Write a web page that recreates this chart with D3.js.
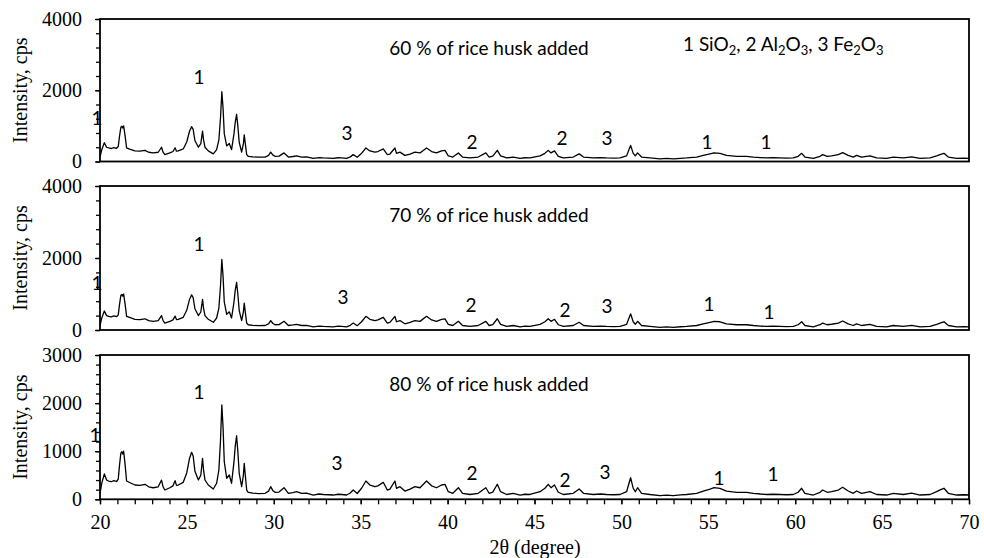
<!DOCTYPE html>
<html>
<head>
<meta charset="utf-8">
<script src="https://d3js.org/d3.v7.min.js"></script>
<style>
  body { margin: 0; background: #fff; }
</style>
</head>
<body>
<div id="xrd"></div>
<script>
// 2theta (degree) and intensity (cps), same pattern in all three panels
var theta = [20.00, 20.10, 20.25, 20.38, 20.50, 20.65, 20.80, 20.95, 21.05, 21.12, 21.20, 21.26, 21.31, 21.36, 21.45, 21.53,
    21.70, 22.01, 22.30, 22.59, 22.80, 23.06, 23.35, 23.54, 23.63, 23.73, 24.02, 24.20, 24.32, 24.40, 24.50, 24.79, 24.99,
    25.15, 25.27, 25.36, 25.46, 25.66, 25.80, 25.90, 25.96, 26.04, 26.23, 26.52, 26.71, 26.84, 26.93, 27.01, 27.08, 27.15,
    27.29, 27.44, 27.57, 27.71, 27.78, 27.86, 27.93, 28.01, 28.15, 28.25, 28.30, 28.36, 28.44, 28.53, 28.80, 29.10, 29.50,
    29.70, 29.82, 29.95, 30.07, 30.30, 30.59, 30.84, 31.10, 31.31, 31.60, 31.89, 32.27, 32.60, 32.85, 33.15, 33.42, 33.70,
    33.90, 34.19, 34.40, 34.57, 34.80, 35.05, 35.30, 35.53, 35.82, 35.99, 36.30, 36.53, 36.68, 36.97, 37.06, 37.26, 37.54,
    37.84, 38.12, 38.41, 38.79, 39.08, 39.36, 39.65, 39.85, 40.04, 40.30, 40.62, 40.86, 41.29, 41.76, 42.20, 42.39, 42.60,
    42.86, 43.05, 43.40, 43.78, 44.17, 44.45, 44.74, 45.32, 45.60, 45.79, 45.95, 46.15, 46.37, 46.66, 47.23, 47.57, 47.82,
    48.38, 48.80, 49.15, 49.55, 49.92, 50.30, 50.45, 50.53, 50.68, 50.80, 50.93, 51.16, 51.64, 52.22, 52.60, 52.99, 53.40,
    53.75, 54.33, 54.71, 55.10, 55.33, 55.67, 56.05, 56.63, 57.20, 57.59, 58.00, 58.36, 58.75, 59.12, 59.50, 59.89, 60.17,
    60.37, 60.56, 61.04, 61.43, 61.58, 61.84, 62.09, 62.48, 62.73, 63.05, 63.34, 63.53, 63.82, 64.30, 64.69, 65.26, 65.64,
    66.22, 66.70, 67.18, 67.76, 68.14, 68.37, 68.56, 68.81, 69.29, 69.70, 70.00];
var counts = [120, 330, 527, 400, 380, 365, 390, 370, 420, 700, 960, 990, 940, 1000, 700, 380,
    350, 297, 290, 312, 260, 240, 260, 400, 260, 193, 240, 280, 387, 290, 297, 353, 547,
    850, 977, 900, 590, 401, 500, 852, 600, 401, 297, 214, 333, 609, 1200, 1960, 1500, 782,
    437, 505, 333, 782, 1100, 1322, 1000, 540, 262, 500, 748, 500, 193, 146, 130, 120, 125,
    170, 262, 180, 146, 150, 241, 125, 140, 158, 125, 130, 89, 110, 100, 95, 89, 105,
    100, 89, 130, 193, 120, 229, 380, 297, 262, 280, 353, 193, 210, 380, 229, 262, 172,
    210, 262, 240, 380, 280, 240, 297, 310, 158, 125, 241, 125, 100, 125, 241, 125, 150,
    312, 158, 100, 125, 89, 105, 100, 158, 229, 312, 241, 297, 146, 100, 125, 214, 125,
    100, 110, 100, 95, 100, 158, 350, 450, 229, 158, 241, 125, 100, 75, 85, 75, 90,
    100, 125, 172, 214, 241, 229, 172, 146, 146, 125, 110, 100, 105, 100, 95, 100, 146,
    229, 125, 89, 146, 193, 146, 160, 193, 250, 172, 125, 172, 125, 158, 100, 89, 125,
    100, 130, 89, 100, 158, 200, 229, 125, 89, 95, 89];

var panelTitles = ["60 % of rice husk added", "70 % of rice husk added", "80 % of rice husk added"];
var yMax = [4000, 4000, 3000];
var yMajor = [[0, 2000, 4000], [0, 2000, 4000], [0, 1000, 2000, 3000]];
var yMinorStep = [400, 400, 200];
var xTicks = [20, 25, 30, 35, 40, 45, 50, 55, 60, 65, 70];

// peak markers: phase number, 2theta and height of the label
var peakPhase = ["1", "1", "3", "2", "2", "3", "1", "1"];
var peakTheta = [
    [19.83, 25.70, 34.21, 41.40, 46.58, 49.17, 54.93, 58.32],
    [19.83, 25.70, 33.98, 41.35, 46.75, 49.17, 55.04, 58.49],
    [19.71, 25.70, 33.64, 41.40, 46.75, 49.06, 55.62, 58.72]];
var peakLevel = [
    [1221, 2372, 800, 547, 660, 660, 547, 547],
    [1306, 2389, 917, 694, 556, 667, 722, 500],
    [1337, 2231, 755, 547, 401, 568, 443, 526]];

// legend pieces: text and whether it is a subscript
var legendText = ["1 SiO", "2", ", 2 Al", "2", "O", "3", ", 3 Fe", "2", "O", "3"];
var legendSub = [false, true, false, true, false, true, false, true, false, true];

var width = 984, height = 558;
var plotLeft = 100, plotRight = 969;
var panelTop = [19, 186, 355],
    panelBottom = [161.5, 330, 499.3];

var serif = "'Liberation Serif', 'Times New Roman', serif";
var sans = "Lato, 'Liberation Sans', sans-serif";

var svg = d3.select("#xrd")
    .append("svg")
    .attr("width", width)
    .attr("height", height)
    .style("background", "#fff");

var x = d3.scaleLinear()
    .domain([20, 70])
    .range([plotLeft, plotRight]);

var pts = theta.map(function(t, i) { return [t, counts[i]]; });

function drawPanel(p) {
    var y = d3.scaleLinear()
        .domain([0, yMax[p]])
        .range([panelBottom[p], panelTop[p]]);
    var g = svg.append("g");

    // peak labels go first so the axis sits over the one at 20 deg
    g.selectAll(".peak")
        .data(peakPhase)
        .enter()
        .append("text")
        .attr("x", function(d, i) { return x(peakTheta[p][i]); })
        .attr("y", function(d, i) { return y(peakLevel[p][i]); })
        .attr("dy", "0.35em")
        .attr("text-anchor", "middle")
        .style("font-family", sans)
        .style("font-size", "19px")
        .text(function(d) { return d; });

    // pattern
    var line = d3.line()
        .x(function(d) { return x(d[0]); })
        .y(function(d) { return y(d[1]); });
    g.append("path")
        .datum(pts)
        .attr("d", line)
        .attr("fill", "none")
        .attr("stroke", "#000")
        .attr("stroke-width", 1.3)
        .attr("stroke-linejoin", "round");

    // Y axis
    var minor = d3.range(0, yMax[p] + 1, yMinorStep[p]);
    g.append("g")
        .attr("transform", "translate(" + plotLeft + ",0)")
        .call(d3.axisLeft(y).tickValues(minor).tickSize(4).tickFormat(""))
        .call(function(a) { a.select(".domain").remove(); });
    g.append("g")
        .attr("transform", "translate(" + plotLeft + ",0)")
        .call(d3.axisLeft(y).tickValues(yMajor[p]).tickSize(5).tickPadding(13).tickFormat(d3.format("d")))
        .call(function(a) { a.select(".domain").remove(); })
        .selectAll("text")
        .style("font-family", serif)
        .style("font-size", "20px")
        .attr("fill", "#000");
    g.selectAll(".tick line").attr("stroke-width", 1.3);

    // box
    g.append("rect")
        .attr("x", plotLeft)
        .attr("y", panelTop[p])
        .attr("width", plotRight - plotLeft)
        .attr("height", panelBottom[p] - panelTop[p])
        .attr("fill", "none")
        .attr("stroke", "#000")
        .attr("stroke-width", 1.8);

    g.append("text")
        .attr("transform", "translate(20," + ((panelTop[p] + panelBottom[p]) / 2) + ") rotate(-90)")
        .attr("dy", "0.35em")
        .attr("text-anchor", "middle")
        .style("font-family", serif)
        .style("font-size", "20px")
        .text("Intensity, cps");

    g.append("text")
        .attr("x", 489)
        .attr("y", panelTop[p] + 29)
        .attr("dy", "0.35em")
        .attr("text-anchor", "middle")
        .style("font-family", sans)
        .style("font-size", "19px")
        .text(panelTitles[p]);

    return g;
}

drawPanel(0);
drawPanel(1);
var last = drawPanel(2);

// X axis only on the bottom panel
last.append("g")
    .attr("transform", "translate(0," + panelBottom[2] + ")")
    .call(d3.axisBottom(x).tickValues(d3.range(20, 71, 1)).tickSize(5).tickFormat(""))
    .call(function(a) { a.select(".domain").remove(); });
last.append("g")
    .attr("transform", "translate(0," + panelBottom[2] + ")")
    .call(d3.axisBottom(x).tickValues(xTicks).tickSize(5).tickPadding(11).tickFormat(d3.format("d")))
    .call(function(a) { a.select(".domain").remove(); })
    .selectAll("text")
    .style("font-family", serif)
    .style("font-size", "20px")
    .attr("fill", "#000");
last.selectAll(".tick line").attr("stroke-width", 1.3);

svg.append("text")
    .attr("x", 535)
    .attr("y", 547)
    .attr("dy", "0.35em")
    .attr("text-anchor", "middle")
    .style("font-family", serif)
    .style("font-size", "20px")
    .text("2\u03b8 (degree)");

// legend of the phases
var leg = svg.append("text")
    .attr("x", 683)
    .attr("y", 51)
    .style("font-family", sans)
    .style("font-size", "19px");
leg.selectAll("tspan")
    .data(legendText)
    .enter()
    .append("tspan")
    .attr("dy", function(d, i) {
        if (legendSub[i]) return 4;
        return i > 0 && legendSub[i - 1] ? -4 : 0;
    })
    .style("font-size", function(d, i) { return legendSub[i] ? "13px" : null; })
    .text(function(d) { return d; });
</script>
</body>
</html>
